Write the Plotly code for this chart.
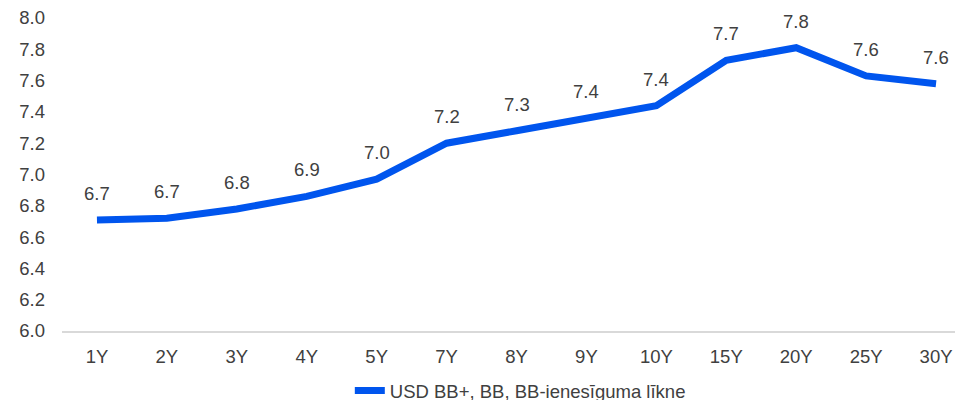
import plotly.graph_objects as go

categories = ["1Y", "2Y", "3Y", "4Y", "5Y", "7Y", "8Y", "9Y", "10Y", "15Y", "20Y", "25Y", "30Y"]
yields = [6.71, 6.72, 6.78, 6.86, 6.97, 7.20, 7.28, 7.36, 7.44, 7.73, 7.81, 7.63, 7.58]
series_name = "USD BB+, BB, BB-ienesīguma līkne"

font_family = "Liberation Sans, Arial, sans-serif"
text_color = "#404040"
line_color = "#0055EE"
fs = 18.5

fig = go.Figure()
fig.add_trace(go.Scatter(
    x=categories, y=yields, mode="lines", name=series_name,
    line=dict(color=line_color, width=7),
    hoverinfo="skip",
))

for c, v in zip(categories, yields):
    fig.add_annotation(
        x=c, y=v, text=f"{v:.1f}", showarrow=False,
        yshift=26.5, font=dict(family=font_family, size=fs, color=text_color),
    )

fig.update_layout(
    width=963, height=400,
    margin=dict(l=54, r=0, t=10, b=77),
    paper_bgcolor="white", plot_bgcolor="white",
    font=dict(family=font_family, size=fs, color=text_color),
    showlegend=True,
    legend=dict(orientation="h", xref="container", yref="container",
                x=0.532, xanchor="center", y=0.0425, yanchor="middle",
                font=dict(family=font_family, size=fs, color=text_color)),
    xaxis=dict(
        type="category", range=[-0.5, 12.5], automargin=False,
        showgrid=False, showline=True, linecolor="#d9d9d9", linewidth=1.5,
        ticks="", ticklabelstandoff=8, ticklabeloverflow="allow",
    ),
    yaxis=dict(
        range=[6.0, 8.0], dtick=0.2, tickformat=".1f", automargin=False,
        showgrid=False, zeroline=False, showline=False,
        ticks="", ticklabelstandoff=16, ticklabeloverflow="allow",
    ),
)

fig.write_html("out.html")
